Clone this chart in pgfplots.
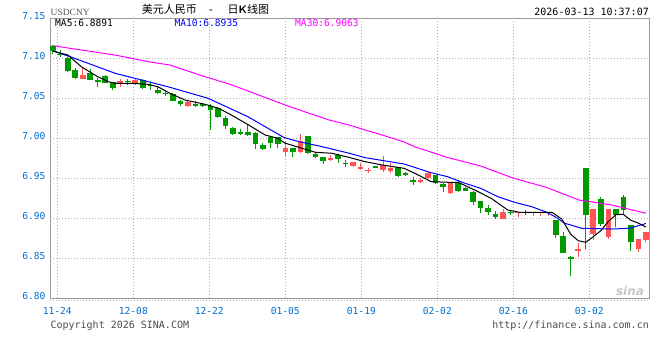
\documentclass[border=0pt]{standalone}
\usepackage{pgfplots}
\pgfplotsset{compat=1.18}
\usepackage{pgfplotstable}
\usepackage{fontspec}
\setmainfont{DejaVu Sans}
\newfontfamily\monof{DejaVu Sans Mono}
\newfontfamily\cjk{Noto Sans CJK SC}
\newfontfamily\serifp{Liberation Serif}

\definecolor{upc}{RGB}{255,85,85}
\definecolor{downc}{RGB}{0,153,0}
\definecolor{tickc}{RGB}{0,110,210}
\definecolor{framec}{RGB}{153,153,153}
\definecolor{gridc}{RGB}{175,175,175}
\definecolor{ma10c}{RGB}{0,0,255}
\definecolor{ma30c}{RGB}{255,0,255}

\pgfplotstableread{
i o h l c
0 7.1150 7.1166 7.1050 7.1088
1 7.1052 7.1104 7.1013 7.1039
2 7.1010 7.1012 7.0829 7.0838
3 7.0860 7.0875 7.0741 7.0748
4 7.0745 7.0875 7.0745 7.0795
5 7.0818 7.0866 7.0729 7.0731
6 7.0728 7.0757 7.0645 7.0709
7 7.0779 7.0795 7.0687 7.0695
8 7.0700 7.0700 7.0604 7.0633
9 7.0675 7.0741 7.0645 7.0718
10 7.0712 7.0741 7.0663 7.0698
11 7.0679 7.0737 7.0670 7.0727
12 7.0729 7.0741 7.0620 7.0635
13 7.0662 7.0708 7.0604 7.0648
14 7.0604 7.0645 7.0554 7.0562
15 7.0570 7.0591 7.0529 7.0548
16 7.0556 7.0563 7.0466 7.0470
17 7.0468 7.0479 7.0408 7.0427
18 7.0398 7.0479 7.0395 7.0460
19 7.0429 7.0466 7.0395 7.0410
20 7.0425 7.0441 7.0395 7.0408
21 7.0400 7.0425 7.0100 7.0358
22 7.0380 7.0396 7.0250 7.0266
23 7.0255 7.0275 7.0113 7.0156
24 7.0133 7.0145 7.0041 7.0048
25 7.0079 7.0116 7.0041 7.0058
26 7.0083 7.0175 7.0033 7.0041
27 7.0063 7.0083 6.9863 6.9929
28 6.9916 6.9938 6.9854 6.9866
29 7.0020 7.0020 6.9875 6.9940
30 7.0018 7.0018 6.9880 6.9930
31 6.9825 6.9970 6.9763 6.9883
32 6.9883 6.9883 6.9770 6.9825
33 6.9833 7.0054 6.9812 6.9966
34 7.0029 7.0029 6.9800 6.9813
35 6.9804 6.9813 6.9750 6.9770
36 6.9763 6.9763 6.9679 6.9720
37 6.9729 6.9791 6.9720 6.9758
38 6.9791 6.9804 6.9695 6.9738
39 6.9695 6.9729 6.9646 6.9675
40 6.9658 6.9700 6.9646 6.9700
41 6.9620 6.9688 6.9604 6.9645
42 6.9588 6.9625 6.9563 6.9601
43 6.9654 6.9658 6.9625 6.9633
44 6.9604 6.9779 6.9583 6.9666
45 6.9591 6.9688 6.9570 6.9633
46 6.9637 6.9637 6.9520 6.9533
47 6.9562 6.9583 6.9529 6.9538
48 6.9479 6.9513 6.9420 6.9454
49 6.9450 6.9508 6.9438 6.9479
50 6.9500 6.9575 6.9488 6.9570
51 6.9541 6.9541 6.9425 6.9438
52 6.9425 6.9438 6.9333 6.9388
53 6.9313 6.9458 6.9300 6.9458
54 6.9445 6.9479 6.9333 6.9345
55 6.9383 6.9390 6.9340 6.9345
56 6.9333 6.9345 6.9166 6.9200
57 6.9216 6.9216 6.9063 6.9125
58 6.9125 6.9166 6.9041 6.9083
59 6.9054 6.9095 6.8991 6.9020
60 6.8991 6.9120 6.8991 6.9083
61 6.9085 6.9104 6.9041 6.9072
62 6.9072 6.9085 6.9020 6.9085
63 6.9085 6.9104 6.9041 6.9072
64 6.9072 6.9085 6.9030 6.9085
65 6.9072 6.9085 6.9030 6.9085
66 6.9072 6.9085 6.9030 6.9085
67 6.8979 6.8979 6.8758 6.8791
68 6.8779 6.8833 6.8570 6.8570
69 6.8520 6.8533 6.8279 6.8488
70 6.8595 6.8688 6.8520 6.8616
71 6.9630 6.9630 6.8613 6.9045
72 6.8805 6.9115 6.8733 6.9115
73 6.9240 6.9270 6.8906 6.8933
74 6.8770 6.9115 6.8745 6.9115
75 6.9118 6.9118 6.8890 6.9045
76 6.9270 6.9290 6.9040 6.9100
77 6.8916 6.8916 6.8595 6.8708
78 6.8620 6.8741 6.8583 6.8740
79 6.8730 6.8833 6.8700 6.8830
}\ohlc

\begin{document}
\begin{tikzpicture}[x=1pt,y=1pt]
\fill[white] (0,0) rectangle (660,360);
\useasboundingbox (0,0) rectangle (660,360);
\begin{axis}[
  at={(50pt,61.7pt)}, anchor=south west,
  scale only axis, width=599pt, height=280pt,
  xmin=-0.36, xmax=79.42, ymin=6.80, ymax=7.15,
  axis line style={draw=framec, line width=1pt},
  xtick={0.61,10.74,20.86,30.98,41.11,51.23,61.35,71.47},
  xticklabels={11-24,12-08,12-22,01-05,01-19,02-02,02-16,03-02},
  ytick={6.80,6.85,6.90,6.95,7.00,7.05,7.10,7.15},
  yticklabels={6.80,6.85,6.90,6.95,7.00,7.05,7.10,7.15},
  major tick length=0pt,
  grid=major,
  major grid style={draw=gridc, line width=0.9pt, dash pattern=on 1pt off 2pt},
  ticklabel style={font=\monof\fontsize{9.6}{10}\selectfont, text=tickc},
  xticklabel style={anchor=base, yshift=-16.2pt},
  yticklabel style={anchor=east, xshift=-1pt, yshift=2pt},
]
\pgfplotsinvokeforeach{0,...,79}{
  \pgfplotstablegetelem{#1}{o}\of\ohlc \edef\vo{\pgfplotsretval}
  \pgfplotstablegetelem{#1}{h}\of\ohlc \edef\vh{\pgfplotsretval}
  \pgfplotstablegetelem{#1}{l}\of\ohlc \edef\vl{\pgfplotsretval}
  \pgfplotstablegetelem{#1}{c}\of\ohlc \edef\vc{\pgfplotsretval}
  \pgfmathtruncatemacro{\isup}{\vc>=\vo}
  \ifnum\isup=1 \def\cc{upc}\else\def\cc{downc}\fi
  \edef\temp{\noexpand\addplot[draw=\cc, line width=1pt, forget plot] coordinates {(#1,\vl) (#1,\vh)};
    \noexpand\addplot[draw=\cc, line width=5.6pt, forget plot] coordinates {(#1,\vo) (#1,\vc)};}
  \temp
}
% MA30
\addplot[draw=ma30c, line width=1pt] coordinates {
(0,7.1158) (3.77,7.1104) (8.3,7.1041) (12.7,7.0958) (15.6,7.0916) (19.6,7.0791) (23.9,7.0666) (31.2,7.0408) (36.8,7.0229) (39.5,7.0166) (41.6,7.0104) (43.9,7.0041) (46.8,6.9954) (48.3,6.9891) (52.6,6.976) (57.0,6.9654) (61.3,6.9504) (65.6,6.9391) (70.1,6.9229) (74.5,6.9166) (79,6.9063)};
% MA10
\addplot[draw=ma10c, line width=1pt] coordinates {
(0,7.1093) (2.04,7.1029) (3.77,7.097) (8.3,7.0813) (12.7,7.0708) (15.6,7.0638) (20.7,7.05) (26.0,7.027) (30.8,7.001) (32.8,6.9958) (35.9,6.9895) (39.5,6.9813) (41.6,6.9758) (46.8,6.9679) (50.4,6.957) (52.6,6.952) (54.9,6.9438) (57.0,6.9375) (59.3,6.927) (61.6,6.9198) (63.8,6.9145) (65.6,6.9083) (66.9,6.902) (68.2,6.8938) (70.5,6.8875) (74.5,6.8866) (76.8,6.8875) (79,6.8935)};
% MA5
\addplot[draw=black, line width=1pt] coordinates {
(0,7.109) (2.04,7.1041) (3.8,7.0895) (6.0,7.077) (7.4,7.0708) (8.3,7.0688) (10.5,7.0688) (12.7,7.0675) (14.0,7.0645) (15.6,7.0563) (17.6,7.0479) (20.3,7.0425) (22.1,7.0375) (23.8,7.0291) (26.1,7.0166) (28.3,7.0041) (30.0,7.0) (30.9,6.9941) (33.2,6.9875) (35.0,6.9825) (37.2,6.9813) (39.4,6.9763) (41.6,6.9708) (43.9,6.9666) (46.8,6.9625) (48.7,6.9541) (50.4,6.9458) (52.7,6.945) (54.0,6.945) (56.2,6.9354) (58.4,6.925) (60.6,6.9104) (62.2,6.9075) (66.5,6.9075) (67.8,6.8990) (69,6.8800) (70,6.8720) (71,6.8700) (72,6.8770) (73,6.8845) (74,6.8960) (75,6.9045) (76,6.9050) (77,6.8975) (78,6.8940) (79,6.8891)};
\end{axis}
% dotted line under the frame
\draw[draw=gridc, line width=0.9pt, dash pattern=on 1pt off 2pt] (50,59.3) -- (649,59.3);
% header
\node[anchor=base west, inner sep=0, font=\serifp\fontsize{9.5}{10}\selectfont, text=black!65] at (50.5,345) {USDCNY};
\node[anchor=base west, inner sep=0, font=\cjk\fontsize{11}{12}\selectfont] at (141.7,346.3) {美元人民币};
\node[anchor=base, inner sep=0, font=\monof\fontsize{11}{12}\selectfont] at (211,346.3) {-};
\node[anchor=base west, inner sep=0, font=\cjk\fontsize{11}{12}\selectfont] at (227.5,346.3) {日{\bfseries\sffamily K}线图};
\node[anchor=base east, inner sep=0, font=\monof\fontsize{10}{11}\selectfont] at (649,345) {2026-03-13 10:37:07};
% MA legend
\node[anchor=base west, inner sep=0, font=\monof\fontsize{9.6}{10}\selectfont, text=black] at (55,334) {MA5:6.8891};
\node[anchor=base west, inner sep=0, font=\monof\fontsize{9.6}{10}\selectfont, text=ma10c] at (174.3,334) {MA10:6.8935};
\node[anchor=base west, inner sep=0, font=\monof\fontsize{9.6}{10}\selectfont, text=ma30c] at (295,334) {MA30:6.9063};
% footer
\node[anchor=base west, inner sep=0, font=\monof\fontsize{10}{11}\selectfont, text=black!70] at (50.4,31.5) {Copyright 2026 SINA.COM};
\node[anchor=base east, inner sep=0, font=\monof\fontsize{10}{11}\selectfont, text=black!70] at (649,31.5) {http://finance.sina.com.cn};
% watermark
\node[anchor=base, inner sep=0, font=\bfseries\itshape\fontsize{12}{12}\selectfont, text=black!22] at (630,65) {sina};
\end{tikzpicture}
\end{document}
